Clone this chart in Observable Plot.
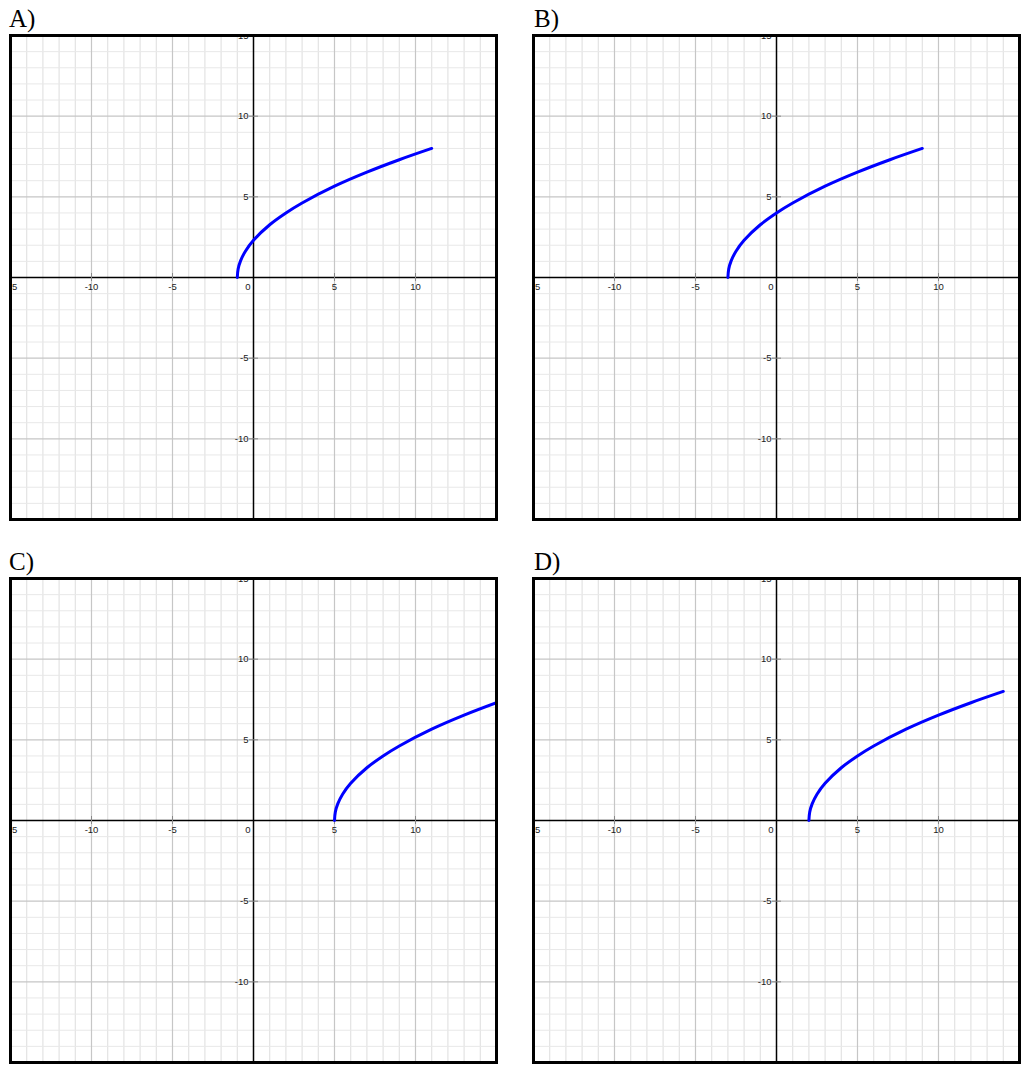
<!DOCTYPE html>
<html>
<head>
<meta charset="utf-8">
<script src="https://cdn.jsdelivr.net/npm/d3@7"></script>
<script src="https://cdn.jsdelivr.net/npm/@observablehq/plot@0.6"></script>
<style>
  html, body { margin: 0; padding: 0; background: #fff; }
  #wrap { position: relative; width: 1027px; height: 1070px; }
  .lbl { position: absolute; font-family: "Liberation Serif", "Times New Roman", serif; font-size: 25px; line-height: 1; color: #000; }
  .pan { position: absolute; }
</style>
</head>
<body>
<div id="wrap"></div>
<script>
// ---- data ----
const panelNames = ["A)", "B)", "C)", "D)"];
const xDomain = [-15, 15];
const yDomain = [-15, 15];
const minorGrid = [-14, -13, -12, -11, -9, -8, -7, -6, -4, -3, -2, -1, 1, 2, 3, 4, 6, 7, 8, 9, 11, 12, 13, 14];
const majorGrid = [-10, -5, 5, 10];
const xTickLabels = [-15, -10, -5, 5, 10];
const yTickLabels = [15, 10, 5, -5, -10];
const originLabel = ["0"];

// curve points
const xA = [-1, -0.95, -0.8, -0.5, 0, 1, 2, 3, 5, 7, 9, 11];
const yA = [0, 0.52, 1.03, 1.63, 2.31, 3.27, 4.0, 4.62, 5.66, 6.53, 7.30, 8.0];
const xB = [-3, -2.95, -2.8, -2.5, -2, -1, 0, 1, 3, 5, 7, 9];
const yB = [0, 0.52, 1.03, 1.63, 2.31, 3.27, 4.0, 4.62, 5.66, 6.53, 7.30, 8.0];
const xC = [5, 5.05, 5.2, 5.5, 6, 7, 8, 9, 11, 13, 15];
const yC = [0, 0.52, 1.03, 1.63, 2.31, 3.27, 4.0, 4.62, 5.66, 6.53, 7.30];
const xD = [2, 2.05, 2.2, 2.5, 3, 4, 5, 6, 8, 10, 12, 14];
const yD = [0, 0.52, 1.03, 1.63, 2.31, 3.27, 4.0, 4.62, 5.66, 6.53, 7.30, 8.0];

const curves = [[xA, yA], [xB, yB], [xC, yC], [xD, yD]];

// ---- layout ----
const slots = [
  {left: 8, top: 33, lx: 9, ly: 6},
  {left: 531, top: 33, lx: 534, ly: 6},
  {left: 8, top: 576, lx: 9, ly: 549},
  {left: 531, top: 576, lx: 534, ly: 549}
];

const wrap = document.getElementById("wrap");

curves.forEach(([xs, ys], i) => {
  const pts = xs.map((x, j) => ({x, y: ys[j]}));
  const s = slots[i];

  const lbl = document.createElement("div");
  lbl.className = "lbl";
  lbl.textContent = panelNames[i];
  lbl.style.left = s.lx + "px";
  lbl.style.top = s.ly + "px";
  wrap.appendChild(lbl);

  const chart = Plot.plot({
    width: 490,
    height: 488,
    marginLeft: 2, marginRight: 2, marginTop: 2, marginBottom: 2,
    x: {domain: xDomain, axis: null},
    y: {domain: yDomain, axis: null},
    style: {fontFamily: "'Liberation Sans', Arial, sans-serif", fontSize: "9.5px", background: "white"},
    marks: [
      Plot.ruleX(minorGrid, {stroke: "#e3e3e3", strokeWidth: 1.2}),
      Plot.ruleY(minorGrid, {stroke: "#e8e8e8", strokeWidth: 1}),
      Plot.ruleX(majorGrid, {stroke: "#c6c6c6", strokeWidth: 1.2}),
      Plot.ruleY(majorGrid, {stroke: "#c6c6c6", strokeWidth: 1.2}),
      Plot.ruleX([0], {stroke: "#000", strokeWidth: 1.5}),
      Plot.ruleY([0], {stroke: "#000", strokeWidth: 1.5}),
      Plot.ruleX(xTickLabels, {x: d => d, y1: 0, y2: 0, insetTop: -4, insetBottom: -4, stroke: "#888", strokeWidth: 1}),
      Plot.ruleY(yTickLabels, {y: d => d, x1: 0, x2: 0, insetLeft: -4, insetRight: -5, stroke: "#888", strokeWidth: 1}),
      Plot.text(xTickLabels, {x: d => d, y: 0, text: d => String(d), dy: 9, fontSize: 9.5, fill: "#222", clip: true}),
      Plot.text(yTickLabels, {x: 0, y: d => d, text: d => String(d), textAnchor: "end", dx: -5, fontSize: 9.5, fill: "#222", clip: true}),
      Plot.text(originLabel, {x: 0, y: 0, text: d => d, textAnchor: "end", dx: -3, dy: 9, fontSize: 9.5, fill: "#222"}),
      Plot.line(pts, {x: "x", y: "y", stroke: "#0000ff", strokeWidth: 3, curve: "catmull-rom", clip: true}),
      Plot.frame({stroke: "#000", strokeWidth: 3})
    ]
  });
  chart.classList.add("pan");
  chart.style.left = s.left + "px";
  chart.style.top = s.top + "px";
  wrap.appendChild(chart);
});
</script>
</body>
</html>
